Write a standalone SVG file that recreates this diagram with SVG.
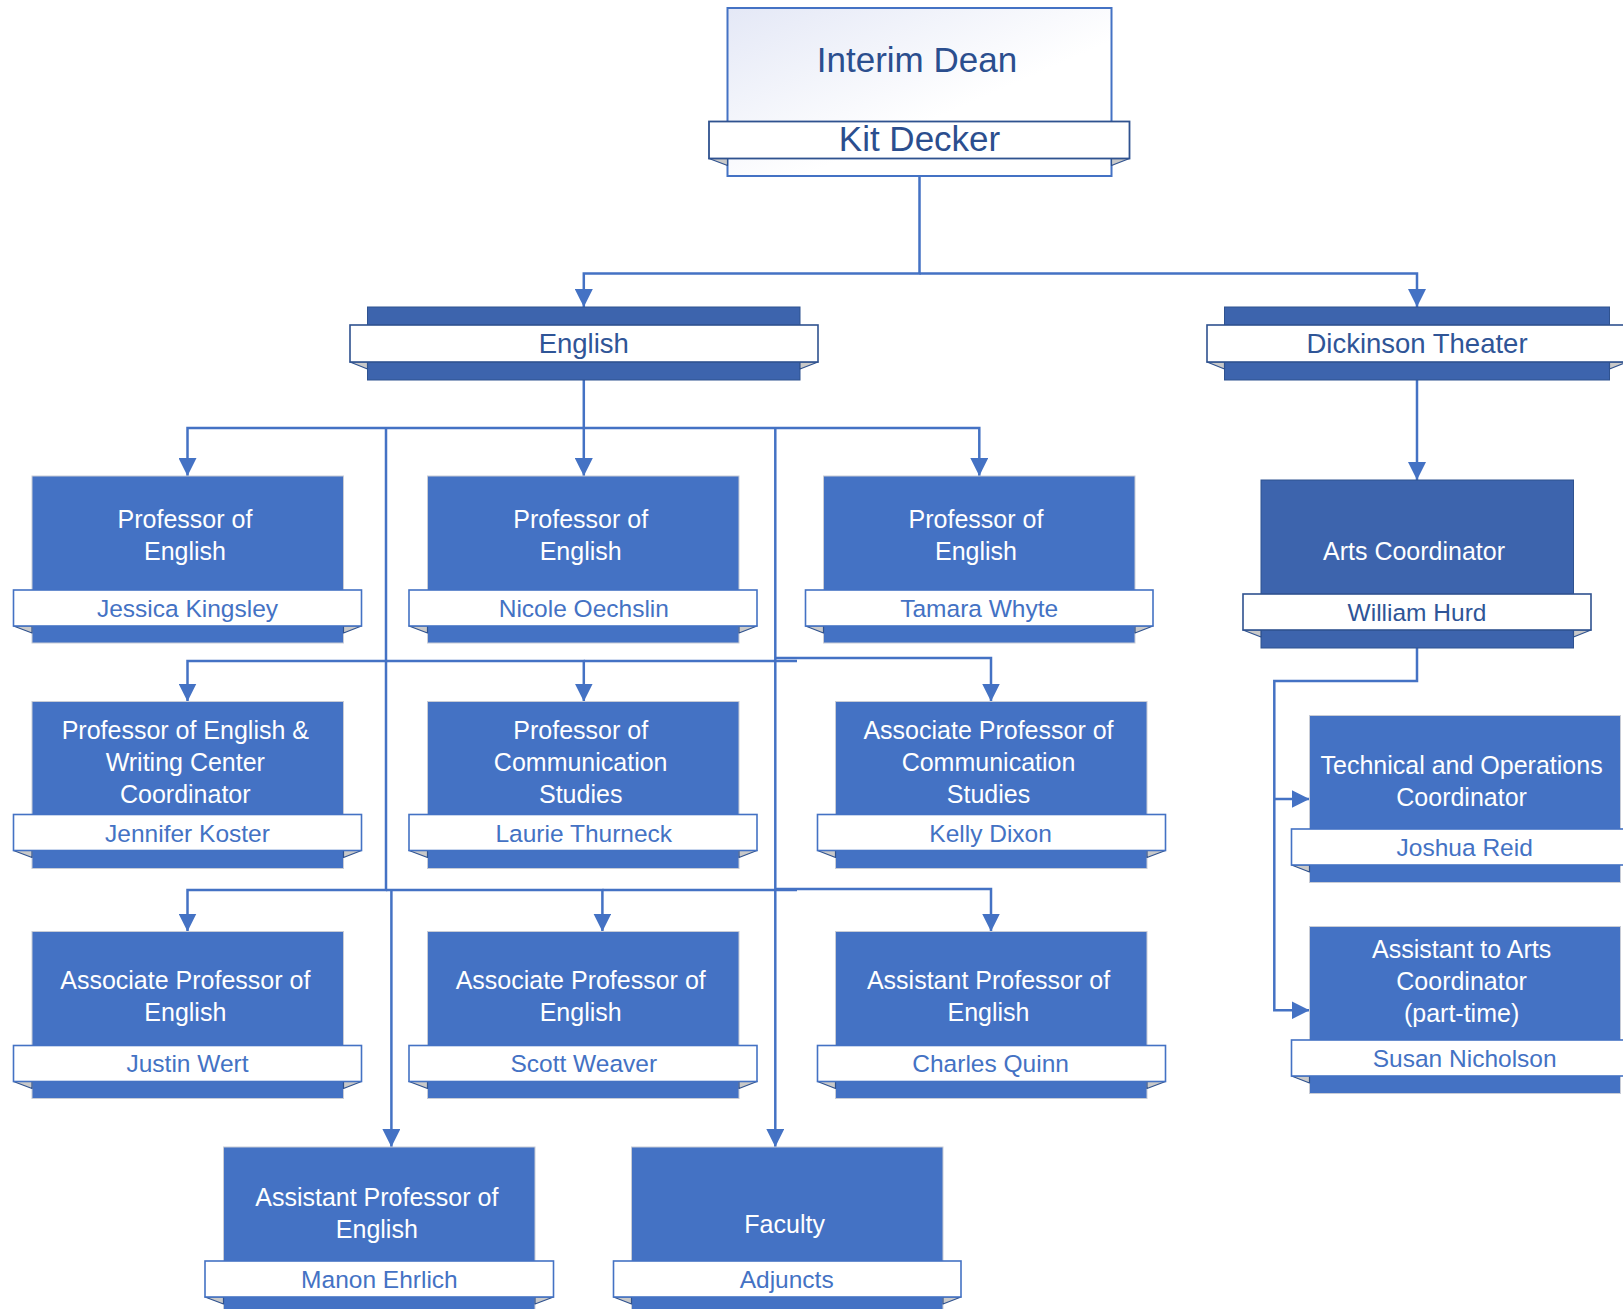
<svg xmlns="http://www.w3.org/2000/svg" width="1623" height="1309" viewBox="0 0 1623 1309">
<style>
.bg{fill:#FFFFFF}
.box{fill:#4472C4;stroke:#C8CCD6;stroke-width:1}
.dbox{fill:#3D64AD;stroke:#2F528F;stroke-width:1}
.band{fill:#FFFFFF;stroke:#4472C4;stroke-width:1.6}
.dband{fill:#FFFFFF;stroke:#2F528F;stroke-width:1.6}
.tab{fill:#C9C9C9;stroke:#2F528F;stroke-width:1.2;stroke-linejoin:round}
.role{font-family:"Liberation Sans",Arial,sans-serif;font-size:25px;fill:#FFFFFF;text-anchor:middle}
.name{font-family:"Liberation Sans",Arial,sans-serif;font-size:24.5px;fill:#4472C4;text-anchor:middle}
.dname{font-family:"Liberation Sans",Arial,sans-serif;font-size:24.5px;fill:#2F5597;text-anchor:middle}
.dept{font-family:"Liberation Sans",Arial,sans-serif;font-size:27.5px;fill:#2F5597;text-anchor:middle}
.dean{font-family:"Liberation Sans",Arial,sans-serif;font-size:35px;fill:#2B4E8E;text-anchor:middle}
.conn{fill:none;stroke:#4472C4;stroke-width:2.5}
</style>
<defs>
<linearGradient id="deanGrad" x1="0" y1="0" x2="1" y2="1">
<stop offset="0" stop-color="#E4E8F6"/>
<stop offset="0.6" stop-color="#FFFFFF"/>
<stop offset="1" stop-color="#FFFFFF"/>
</linearGradient>
<marker id="arr" markerUnits="userSpaceOnUse" markerWidth="18" markerHeight="18" refX="18" refY="9" orient="auto">
<path d="M0,0 L18,9 L0,18 z" fill="#4472C4"/>
</marker>
</defs>
<rect class="bg" x="0" y="0" width="1623" height="1309"/>

<g id="connectors">
<path class="conn" d="M919.5 176 V273.5 H583.8 V307" marker-end="url(#arr)"/>
<path class="conn" d="M919.5 273.5 H1417 V307" marker-end="url(#arr)"/>
<path class="conn" d="M583.8 380 V428 H187.5 V476" marker-end="url(#arr)"/>
<path class="conn" d="M583.8 428 V476" marker-end="url(#arr)"/>
<path class="conn" d="M583.8 428 H979.3 V476" marker-end="url(#arr)"/>
<path class="conn" d="M386 428 V661 H187.5 V701.5" marker-end="url(#arr)"/>
<path class="conn" d="M386 661 H583.8 V701.5" marker-end="url(#arr)"/>
<path class="conn" d="M583.8 661 H797"/>
<path class="conn" d="M775.3 658 H991 V701.5" marker-end="url(#arr)"/>
<path class="conn" d="M386 661 V890 H187.5 V931.5" marker-end="url(#arr)"/>
<path class="conn" d="M386 890 H602.4 V931.5" marker-end="url(#arr)"/>
<path class="conn" d="M602.4 890 H797"/>
<path class="conn" d="M775.3 889 H991 V931.5" marker-end="url(#arr)"/>
<path class="conn" d="M391.4 890 V1147" marker-end="url(#arr)"/>
<path class="conn" d="M775.3 428 V1147" marker-end="url(#arr)"/>
<path class="conn" d="M1417 380 V480" marker-end="url(#arr)"/>
<path class="conn" d="M1417 648 V681 H1274.3 V1010.3 H1309.5" marker-end="url(#arr)"/>
<path class="conn" d="M1274.3 799 H1309.5" marker-end="url(#arr)"/>
</g>

<g id="node-dean">
<rect x="727.5" y="8" width="384" height="168" fill="url(#deanGrad)" stroke="#4472C4" stroke-width="2"/>
<polygon class="tab" points="709,158.5 727.5,165.5 727.5,158.5"/>
<polygon class="tab" points="1129.5,158.5 1111.5,165.5 1111.5,158.5"/>
<rect x="709" y="121.5" width="420.5" height="37" fill="#FFFFFF" stroke="#2F528F" stroke-width="1.8"/>
<text class="dean" x="917" y="72">Interim Dean</text>
<text class="dean" x="919.5" y="151">Kit Decker</text>
</g>

<g id="node-english">
<rect class="dbox" x="367.5" y="307" width="432.5" height="73"/>
<polygon class="tab" points="350,362 367.5,369 367.5,362"/>
<polygon class="tab" points="818,362 800,369 800,362"/>
<rect class="dband" x="350" y="325" width="468" height="37"/>
<text class="dept" x="583.8" y="353">English</text>
</g>

<g id="node-dickinson">
<rect class="dbox" x="1224.5" y="307" width="385" height="73"/>
<polygon class="tab" points="1207,362 1224.5,369 1224.5,362"/>
<polygon class="tab" points="1627,362 1609.5,369 1609.5,362"/>
<rect class="dband" x="1207" y="325" width="420" height="37"/>
<text class="dept" x="1417" y="353">Dickinson Theater</text>
</g>

<g id="node-kingsley">
<rect class="box" x="32" y="476" width="311.5" height="167"/>
<polygon class="tab" points="13.5,626 32,633 32,626"/>
<polygon class="tab" points="361.5,626 343.5,633 343.5,626"/>
<rect class="band" x="13.5" y="590" width="348" height="36"/>
<text class="role" x="185" y="527.5">Professor of</text>
<text class="role" x="185" y="559.5">English</text>
<text class="name" x="187.5" y="616.5">Jessica Kingsley</text>
</g>

<g id="node-oechslin">
<rect class="box" x="427.5" y="476" width="311.5" height="167"/>
<polygon class="tab" points="409,626 427.5,633 427.5,626"/>
<polygon class="tab" points="757,626 739,633 739,626"/>
<rect class="band" x="409" y="590" width="348" height="36"/>
<text class="role" x="580.7" y="527.5">Professor of</text>
<text class="role" x="580.7" y="559.5">English</text>
<text class="name" x="583.8" y="616.5">Nicole Oechslin</text>
</g>

<g id="node-whyte">
<rect class="box" x="823.5" y="476" width="311.5" height="167"/>
<polygon class="tab" points="805.5,626 823.5,633 823.5,626"/>
<polygon class="tab" points="1153,626 1135,633 1135,626"/>
<rect class="band" x="805.5" y="590" width="347.5" height="36"/>
<text class="role" x="976" y="527.5">Professor of</text>
<text class="role" x="976" y="559.5">English</text>
<text class="name" x="979.2" y="616.5">Tamara Whyte</text>
</g>

<g id="node-koster">
<rect class="box" x="32" y="701.5" width="311.5" height="167"/>
<polygon class="tab" points="13.5,850.5 32,857.5 32,850.5"/>
<polygon class="tab" points="361.5,850.5 343.5,857.5 343.5,850.5"/>
<rect class="band" x="13.5" y="814.5" width="348" height="36"/>
<text class="role" x="185.3" y="738.5">Professor of English &amp;</text>
<text class="role" x="185.3" y="770.5">Writing Center</text>
<text class="role" x="185.3" y="802.5">Coordinator</text>
<text class="name" x="187.5" y="841.5">Jennifer Koster</text>
</g>

<g id="node-thurneck">
<rect class="box" x="427.5" y="701.5" width="311.5" height="167"/>
<polygon class="tab" points="409,850.5 427.5,857.5 427.5,850.5"/>
<polygon class="tab" points="757,850.5 739,857.5 739,850.5"/>
<rect class="band" x="409" y="814.5" width="348" height="36"/>
<text class="role" x="580.7" y="738.5">Professor of</text>
<text class="role" x="580.7" y="770.5">Communication</text>
<text class="role" x="580.7" y="802.5">Studies</text>
<text class="name" x="583.8" y="841.5">Laurie Thurneck</text>
</g>

<g id="node-dixon">
<rect class="box" x="835.5" y="701.5" width="311.5" height="167"/>
<polygon class="tab" points="817.5,850.5 835.5,857.5 835.5,850.5"/>
<polygon class="tab" points="1165.5,850.5 1147,857.5 1147,850.5"/>
<rect class="band" x="817.5" y="814.5" width="348" height="36"/>
<text class="role" x="988.5" y="738.5">Associate Professor of</text>
<text class="role" x="988.5" y="770.5">Communication</text>
<text class="role" x="988.5" y="802.5">Studies</text>
<text class="name" x="990.6" y="841.5">Kelly Dixon</text>
</g>

<g id="node-wert">
<rect class="box" x="32" y="931.5" width="311.5" height="167"/>
<polygon class="tab" points="13.5,1081.5 32,1088.5 32,1081.5"/>
<polygon class="tab" points="361.5,1081.5 343.5,1088.5 343.5,1081.5"/>
<rect class="band" x="13.5" y="1045.5" width="348" height="36"/>
<text class="role" x="185.3" y="989">Associate Professor of</text>
<text class="role" x="185.3" y="1021">English</text>
<text class="name" x="187.5" y="1072">Justin Wert</text>
</g>

<g id="node-weaver">
<rect class="box" x="427.5" y="931.5" width="311.5" height="167"/>
<polygon class="tab" points="409,1081.5 427.5,1088.5 427.5,1081.5"/>
<polygon class="tab" points="757,1081.5 739,1088.5 739,1081.5"/>
<rect class="band" x="409" y="1045.5" width="348" height="36"/>
<text class="role" x="580.7" y="989">Associate Professor of</text>
<text class="role" x="580.7" y="1021">English</text>
<text class="name" x="583.8" y="1072">Scott Weaver</text>
</g>

<g id="node-quinn">
<rect class="box" x="835.5" y="931.5" width="311.5" height="167"/>
<polygon class="tab" points="817.5,1081.5 835.5,1088.5 835.5,1081.5"/>
<polygon class="tab" points="1165.5,1081.5 1147,1088.5 1147,1081.5"/>
<rect class="band" x="817.5" y="1045.5" width="348" height="36"/>
<text class="role" x="988.5" y="989">Assistant Professor of</text>
<text class="role" x="988.5" y="1021">English</text>
<text class="name" x="990.6" y="1072">Charles Quinn</text>
</g>

<g id="node-ehrlich">
<rect class="box" x="223.5" y="1147" width="311.5" height="170"/>
<polygon class="tab" points="205,1297 223.5,1304 223.5,1297"/>
<polygon class="tab" points="553.5,1297 535,1304 535,1297"/>
<rect class="band" x="205" y="1261" width="348.5" height="36"/>
<text class="role" x="376.8" y="1205.5">Assistant Professor of</text>
<text class="role" x="376.8" y="1237.5">English</text>
<text class="name" x="379.4" y="1287.5">Manon Ehrlich</text>
</g>

<g id="node-faculty">
<rect class="box" x="631.5" y="1147" width="311.5" height="170"/>
<polygon class="tab" points="613.5,1297 631.5,1304 631.5,1297"/>
<polygon class="tab" points="961,1297 943,1304 943,1297"/>
<rect class="band" x="613.5" y="1261" width="347.5" height="36"/>
<text class="role" x="784.6" y="1232.5">Faculty</text>
<text class="name" x="786.7" y="1287.5">Adjuncts</text>
</g>

<g id="node-hurd">
<rect class="dbox" x="1261" y="480" width="312.5" height="168"/>
<polygon class="tab" points="1243,630 1261,637 1261,630"/>
<polygon class="tab" points="1591,630 1573.5,637 1573.5,630"/>
<rect class="dband" x="1243" y="594" width="348" height="36"/>
<text class="role" x="1414" y="559.5">Arts Coordinator</text>
<text class="dname" x="1417" y="620.5">William Hurd</text>
</g>

<g id="node-reid">
<rect class="box" x="1309.5" y="715.5" width="311" height="167"/>
<polygon class="tab" points="1291.5,865 1309.5,872 1309.5,865"/>
<rect class="band" x="1291.5" y="829" width="347" height="36"/>
<text class="role" x="1461.6" y="774">Technical and Operations</text>
<text class="role" x="1461.6" y="806">Coordinator</text>
<text class="name" x="1464.7" y="855.5">Joshua Reid</text>
</g>

<g id="node-nicholson">
<rect class="box" x="1309.5" y="926.5" width="311" height="167"/>
<polygon class="tab" points="1291.5,1076 1309.5,1083 1309.5,1076"/>
<rect class="band" x="1291.5" y="1040" width="347" height="36"/>
<text class="role" x="1461.6" y="958">Assistant to Arts</text>
<text class="role" x="1461.6" y="990">Coordinator</text>
<text class="role" x="1461.6" y="1022">(part-time)</text>
<text class="name" x="1464.7" y="1066.5">Susan Nicholson</text>
</g>
</svg>
